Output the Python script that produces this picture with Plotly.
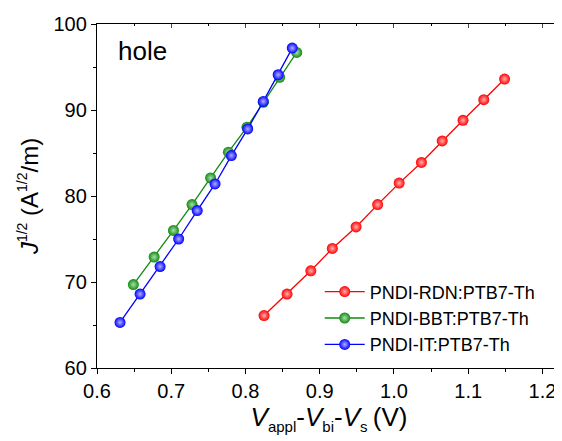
import plotly.graph_objects as go

# J^1/2 vs V_appl - V_bi - V_s, hole-only devices
rdn_x = [0.825, 0.856, 0.888, 0.917, 0.949, 0.978, 1.007, 1.037, 1.065, 1.093, 1.121, 1.149]
rdn_y = [66.1, 68.6, 71.3, 73.9, 76.4, 79.0, 81.5, 83.9, 86.4, 88.8, 91.2, 93.6]

bbt_x = [0.649, 0.677, 0.703, 0.728, 0.753, 0.777, 0.802, 0.824, 0.846, 0.869]
bbt_y = [69.7, 72.9, 76.0, 79.0, 82.1, 85.1, 88.0, 90.9, 93.8, 96.7]

it_x = [0.631, 0.658, 0.685, 0.710, 0.735, 0.759, 0.781, 0.803, 0.824, 0.844, 0.863]
it_y = [65.3, 68.6, 71.8, 75.0, 78.3, 81.4, 84.7, 87.8, 91.0, 94.1, 97.2]

series = [
    ("PNDI-RDN:PTB7-Th", rdn_x, rdn_y, "#ff0000", "#ffb0b0"),
    ("PNDI-BBT:PTB7-Th", bbt_x, bbt_y, "#108a10", "#a8e0a8"),
    ("PNDI-IT:PTB7-Th", it_x, it_y, "#0000ff", "#b0b0ff"),
]

FONT = "Arial, Liberation Sans, sans-serif"


def small(t, px):
    return '<span style="font-size:%dpx">%s</span>' % (px, t)


x_title = ("<i>V</i><sub>" + small("appl", 15) + "</sub>-<i>V</i><sub>" + small("bi", 15)
           + "</sub>-<i>V</i><sub>" + small("s", 15) + "</sub>\u2009(V)")
y_title = ("<i>J</i><sup>" + small("1/2", 14) + "</sup> (A<sup>" + small("1/2", 14)
           + "</sup>/m)")

fig = go.Figure()
for name, xs, ys, col, hi in series:
    fig.add_trace(go.Scatter(
        x=xs, y=ys, name=name, mode="lines+markers",
        line=dict(color=col, width=1.3),
        marker=dict(symbol="circle", size=11, color=col,
                    gradient=dict(type="radial", color=hi),
                    line=dict(width=0)),
    ))

axis_common = dict(
    showline=True, linecolor="black", linewidth=1.3,
    showgrid=False, zeroline=False,
    ticks="outside", ticklen=5, tickwidth=1, tickcolor="black",
    tickfont=dict(family=FONT, size=20, color="black"),
)

# the page body has an 8px margin, so the figure is a bit smaller than the window
fig.update_layout(
    width=554, height=433,
    margin=dict(l=89, r=1, t=16, b=73),
    paper_bgcolor="white", plot_bgcolor="white",
    font=dict(family=FONT, color="black"),
    showlegend=True,
    legend=dict(
        x=0.48, y=0.275, xanchor="left", yanchor="top",
        bgcolor="rgba(0,0,0,0)", borderwidth=0,
        font=dict(family=FONT, size=18, color="black"),
        tracegroupgap=0, itemwidth=40,
    ),
    xaxis=dict(
        range=[0.6, 1.225], tick0=0.6, dtick=0.1, tickformat=".1f",
        minor=dict(dtick=0.05, ticks="outside", ticklen=3, tickcolor="black"),
        title=dict(text=x_title, font=dict(family=FONT, size=26, color="black"), standoff=4),
        **axis_common,
    ),
    yaxis=dict(
        range=[60, 100], tick0=60, dtick=10,
        minor=dict(dtick=5, ticks="outside", ticklen=3, tickcolor="black"),
        title=dict(text=y_title, font=dict(family=FONT, size=24, color="black"), standoff=8),
        **axis_common,
    ),
    xaxis2=dict(
        overlaying="x", side="top", matches="x", range=[0.6, 1.225],
        showline=True, linecolor="black", linewidth=1.3, showgrid=False,
        ticks="inside", ticklen=4, dtick=0.1, tick0=0.6, showticklabels=False,
        minor=dict(dtick=0.05, ticks="inside", ticklen=2, tickcolor="black"),
    ),
    yaxis2=dict(
        overlaying="y", side="right", matches="y", range=[60, 100],
        showline=True, linecolor="black", linewidth=1.3, showgrid=False,
        ticks="inside", ticklen=4, dtick=10, tick0=60, showticklabels=False,
        minor=dict(dtick=5, ticks="inside", ticklen=2, tickcolor="black"),
    ),
    annotations=[dict(
        text="hole", xref="paper", yref="paper", x=0.04, y=0.97,
        xanchor="left", yanchor="top", showarrow=False,
        font=dict(family=FONT, size=26, color="black"),
    )],
)

# invisible trace to activate the mirror axes
fig.add_trace(go.Scatter(x=[None], y=[None], xaxis="x2", yaxis="y2",
                         showlegend=False, hoverinfo="skip"))

fig.write_html("out.html")
